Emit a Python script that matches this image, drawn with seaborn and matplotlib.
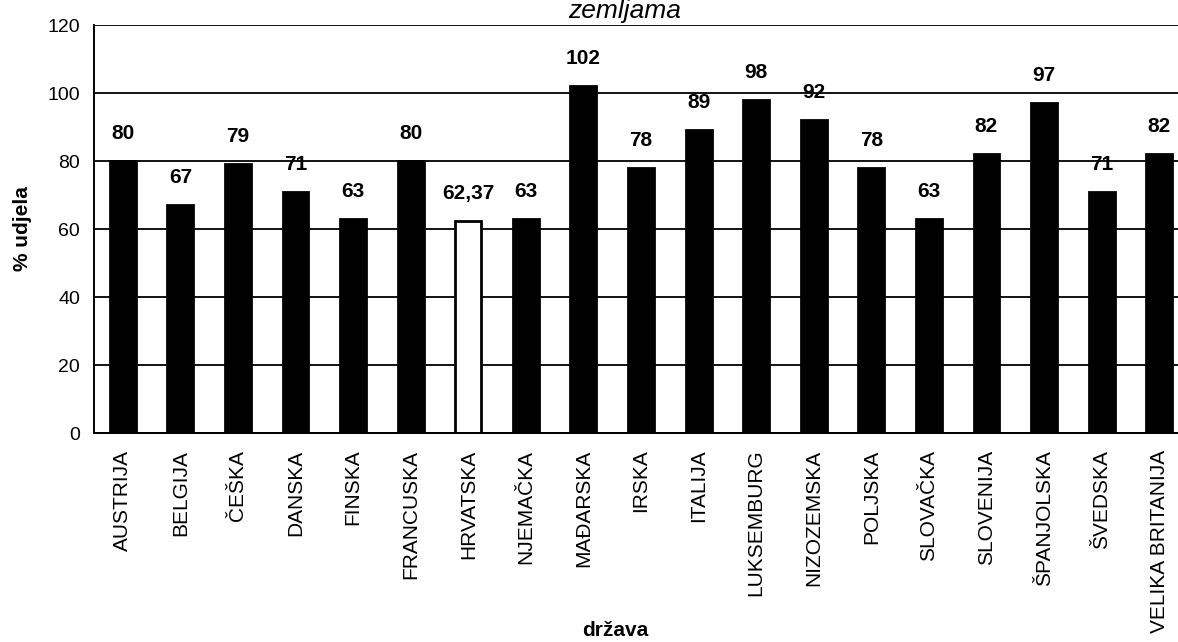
import matplotlib
matplotlib.use("Agg")
import matplotlib.pyplot as plt
import seaborn as sns
import numpy as np

countries = ["AUSTRIJA", "BELGIJA", "ČEŠKA", "DANSKA", "FINSKA", "FRANCUSKA",
             "HRVATSKA", "NJEMAČKA", "MAĐARSKA", "IRSKA", "ITALIJA", "LUKSEMBURG",
             "NIZOZEMSKA", "POLJSKA", "SLOVAČKA", "SLOVENIJA", "ŠPANJOLSKA",
             "ŠVEDSKA", "VELIKA BRITANIJA"]
values = [80, 67, 79, 71, 63, 80, 62.37, 63, 102, 78, 89, 98, 92, 78, 63, 82, 97, 71, 82]
labels = ["80", "67", "79", "71", "63", "80", "62,37", "63", "102", "78", "89", "98",
          "92", "78", "63", "82", "97", "71", "82"]
highlight = "HRVATSKA"

sns.set_theme(style="white")
plt.rcParams['font.family'] = ['Liberation Sans', 'DejaVu Sans']

fig = plt.figure(figsize=(11.78, 6.42), dpi=100)
ax = fig.add_axes([94/1178, 1-433/642, (1188-94)/1178, (433-25)/642])

palette = {c: ("white" if c == highlight else "black") for c in countries}
sns.barplot(x=countries, y=values, hue=countries, palette=palette, legend=False,
            width=0.45, edgecolor="black", linewidth=2, saturation=1, ax=ax)

ax.set_ylim(0, 120)
ax.set_xlim(-0.5, len(countries) - 0.5)
ax.set_yticks(np.arange(0, 121, 20))
ax.yaxis.grid(True, color="black", linewidth=1.3)
ax.set_axisbelow(True)
for s in ["top", "right"]:
    ax.spines[s].set_visible(False)
for s in ["left", "bottom"]:
    ax.spines[s].set_color("black")
    ax.spines[s].set_linewidth(1.4)

ax.set_xticks(np.arange(len(countries)))
ax.set_xticklabels(countries, rotation=90, fontsize=15)
ax.tick_params(axis="x", which="major", length=0, pad=12)
ax.set_xticks(np.arange(-0.5, len(countries), 1), minor=True)
ax.tick_params(axis="x", which="minor", length=5, width=1.2, color="black", direction="out")
ax.tick_params(axis="y", length=6, width=1.2, color="black", direction="out", labelsize=14, pad=4)
ax.tick_params(axis="both", colors="black")

for i, (v, lab) in enumerate(zip(values, labels)):
    ax.annotate(lab, xy=(i, v), xytext=(0, 13), textcoords="offset points",
                ha="center", va="bottom", fontsize=15, fontweight="bold", color="black")

ax.set_xlabel("")
ax.set_ylabel("")
fig.text(22/1178, 1-229/642, "% udjela", rotation=90, ha="center", va="center",
         fontsize=15, fontweight="bold", color="black")
fig.text(615/1178, 1-630/642, "država", ha="center", va="center",
         fontsize=15, fontweight="bold", color="black")
fig.text(625/1178, 1-18/642, "zemljama", ha="center", va="baseline",
         fontsize=19, fontstyle="italic", color="black")

fig.savefig("out.png", dpi=100)
